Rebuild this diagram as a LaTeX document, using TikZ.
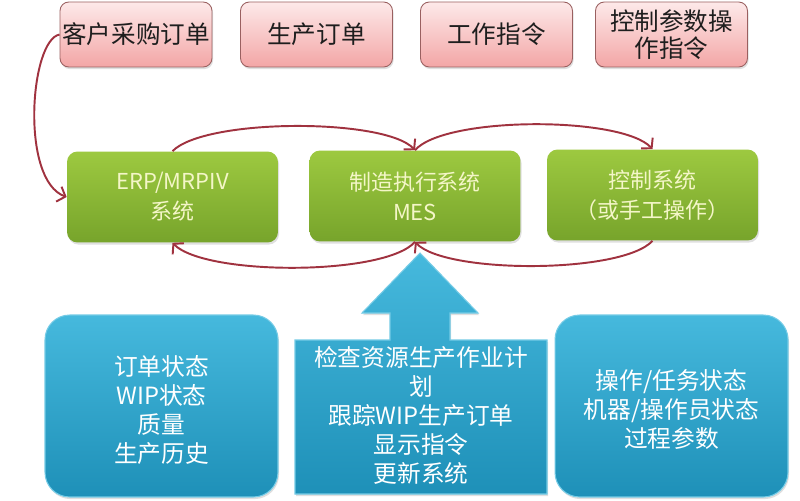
\documentclass[tikz,border=0pt]{standalone}
\usepackage{fontspec}
\setmainfont{Noto Sans CJK SC}
\usetikzlibrary{arrows.meta,shadows}
\definecolor{pinkT}{HTML}{FDE9E9}
\definecolor{pinkB}{HTML}{F3A6A6}
\definecolor{pinkD}{HTML}{9A6060}
\definecolor{greenT}{HTML}{9DC940}
\definecolor{greenB}{HTML}{77A42B}
\definecolor{greenTx}{HTML}{F4F6C8}
\definecolor{blueT}{HTML}{46B9DD}
\definecolor{blueB}{HTML}{1E90B8}
\definecolor{blueD}{HTML}{74CBE6}
\definecolor{arcC}{HTML}{A0323F}
\definecolor{txtD}{HTML}{1E1E1E}
\begin{document}
\begin{tikzpicture}[x=0.02cm,y=-0.02cm,
  pinkbox/.style={rectangle,rounded corners=5pt,draw=pinkD,line width=0.5pt,
    top color=pinkT,bottom color=pinkB,minimum width=3.04cm,minimum height=1.3cm,
    inner sep=0pt,align=center,text=txtD,font=\fontsize{14}{15.5}\selectfont,
    drop shadow={opacity=0.25,shadow xshift=0.6pt,shadow yshift=-1.2pt}},
  greenbox/.style={rectangle,rounded corners=6pt,draw=none,
    top color=greenT,bottom color=greenB,minimum width=4.22cm,minimum height=1.82cm,
    inner sep=0pt,align=center,text=greenTx,font=\fontsize{12.5}{17}\selectfont,
    drop shadow={opacity=0.25,shadow xshift=0.6pt,shadow yshift=-1.2pt}},
  bluebox/.style={rectangle,rounded corners=14pt,draw=blueD,line width=0.6pt,
    top color=blueT,bottom color=blueB,minimum width=4.66cm,minimum height=3.64cm,
    inner sep=0pt,
    drop shadow={opacity=0.25,shadow xshift=0.6pt,shadow yshift=-1.2pt}},
  bluetext/.style={inner sep=0pt,align=center,text=white,font=\fontsize{13.5}{16.5}\selectfont},
  arc/.style={draw=arcC,line width=1.1pt,-{Straight Barb[length=4pt,width=9pt]}}
]
\clip (0,0) rectangle (800,500);
\fill[white] (0,0) rectangle (800,500);

% top pink boxes
\node[pinkbox] (p1) at (136,34.5) {客户采购订单};
\node[pinkbox] (p2) at (316.5,34.5) {生产订单};
\node[pinkbox] (p3) at (496.5,34.5) {工作指令};
\node[pinkbox] (p4) at (671.5,34.5) {控制参数操\\作指令};

% green boxes
\node[greenbox] (erp) at (172.5,197) {ERP/MRPIV\\系统};
\node[greenbox] (mes) at (415,196) {制造执行系统\\MES};
\node[greenbox] (ctrl) at (652.5,195) {控制系统\\（或手工操作）};

% blue boxes
\node[bluebox] (b1) at (161.5,406) {};
\node[bluetext] (b1t) at (161.5,410) {订单状态\\WIP状态\\质量\\生产历史};
\node[bluebox] (b3) at (671.5,406) {};
\node[bluetext] (b3t) at (671.5,409) {操作/任务状态\\机器/操作员状态\\过程参数};

% middle blue arrow shape
\path[draw=blueD,line width=0.6pt,top color=blueT,bottom color=blueB,
  drop shadow={opacity=0.25,shadow xshift=0.6pt,shadow yshift=-1.2pt}]
  (295,340) -- (390,340) -- (390,313) -- (362,313) -- (420,253) -- (478,313)
  -- (450,313) -- (450,340) -- (547,340) -- (547,494) -- (295,494) -- cycle;
\node[bluetext] (b2) at (421,415) {检查资源生产作业计\\划\\跟踪WIP生产订单\\显示指令\\更新系统};

% connectors
\draw[arc] (p1.west) .. controls (30,40) and (20,180) .. (erp.west);
\draw[arc] (erp.north) .. controls (205,118) and (385,118) .. (mes.north);
\draw[arc] (mes.north) .. controls (445,116) and (622,116) .. (ctrl.north);
\draw[arc] (ctrl.south) .. controls (622,274) and (445,274) .. (mes.south);
\draw[arc] (mes.south) .. controls (385,276) and (205,276) .. (erp.south);
\end{tikzpicture}
\end{document}
